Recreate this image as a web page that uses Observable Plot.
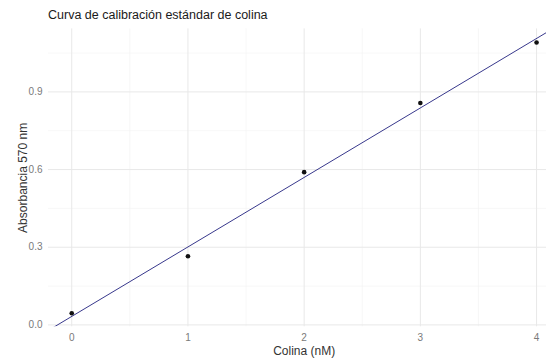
<!DOCTYPE html>
<html>
<head>
<meta charset="utf-8">
<script src="https://cdn.jsdelivr.net/npm/d3@7"></script>
<script src="https://cdn.jsdelivr.net/npm/@observablehq/plot@0.6"></script>
<style>
  html, body { margin: 0; padding: 0; background: #fff; overflow: hidden; }
  #title {
    font-family: "Liberation Sans", Arial, sans-serif;
    font-size: 12.5px;
    line-height: 14px;
    color: #1a1a1a;
    padding: 8px 0 2px 48px;
    height: 14px;
    white-space: nowrap;
  }
</style>
</head>
<body>
<div id="title">Curva de calibración estándar de colina</div>
<div id="chart"></div>
<script>
// Choline standard curve: concentration (nM) vs absorbance at 570 nm
const concentrations = [0, 1, 2, 3, 4];
const absorbance = [0.045, 0.265, 0.590, 0.857, 1.091];

const xTicks = [0, 1, 2, 3, 4];
const xMinor = [0.5, 1.5, 2.5, 3.5];
const yTicks = [0, 0.3, 0.6, 0.9];
const yMinor = [0.15, 0.45, 0.75, 1.05];

const points = concentrations.map((c, i) => ({c, a: absorbance[i]}));

// Least-squares fit
const mx = d3.mean(concentrations), my = d3.mean(absorbance);
const slope = d3.sum(points, d => (d.c - mx) * (d.a - my)) / d3.sum(points, d => (d.c - mx) ** 2);
const intercept = my - slope * mx;

// 5% padding on each side of the data range
const pad = ([lo, hi]) => [lo - 0.05 * (hi - lo), hi + 0.05 * (hi - lo)];
const xDomain = pad(d3.extent(concentrations));
const yDomain = pad(d3.extent(absorbance));
const fit = xDomain.map(c => ({c, a: intercept + slope * c}));

const font = "'Liberation Sans', Arial, sans-serif";

const chart = Plot.plot({
  width: 546,
  height: 337,
  marginLeft: 48,
  marginRight: -13.3,
  marginTop: 4.4,
  marginBottom: 34.7,
  style: {fontFamily: font, background: "#fff", overflow: "hidden"},
  x: {domain: xDomain},
  y: {domain: yDomain},
  marks: [
    Plot.ruleX(xMinor, {stroke: "#f1f1f1", strokeWidth: 0.6}),
    Plot.ruleY(yMinor, {stroke: "#f1f1f1", strokeWidth: 0.6}),
    Plot.ruleX(xTicks, {stroke: "#e8e8e8", strokeWidth: 1}),
    Plot.ruleY(yTicks, {stroke: "#e8e8e8", strokeWidth: 1}),
    Plot.axisX(xTicks, {tickSize: 0, tickPadding: 7, fontSize: 10, fill: "#7a7a7a", label: null, tickFormat: d3.format("d")}),
    Plot.axisY(yTicks, {tickSize: 0, tickPadding: 6, fontSize: 10, fill: "#7a7a7a", label: null, tickFormat: d3.format(".1f")}),
    Plot.line(fit, {x: "c", y: "a", stroke: "#38388c", strokeWidth: 1, clip: true}),
    Plot.dot(points, {x: "c", y: "a", r: 2.3, fill: "#111", stroke: null}),
    Plot.text(["Colina (nM)"], {frameAnchor: "bottom", lineAnchor: "middle", textAnchor: "middle", dy: 24.7, fontSize: 12, fill: "#333"}),
    Plot.text(["Absorbancia 570 nm"], {frameAnchor: "left", lineAnchor: "middle", textAnchor: "middle", dx: -25.8, rotate: -90, fontSize: 12, fill: "#333"})
  ]
});

document.getElementById("chart").appendChild(chart);
</script>
</body>
</html>
